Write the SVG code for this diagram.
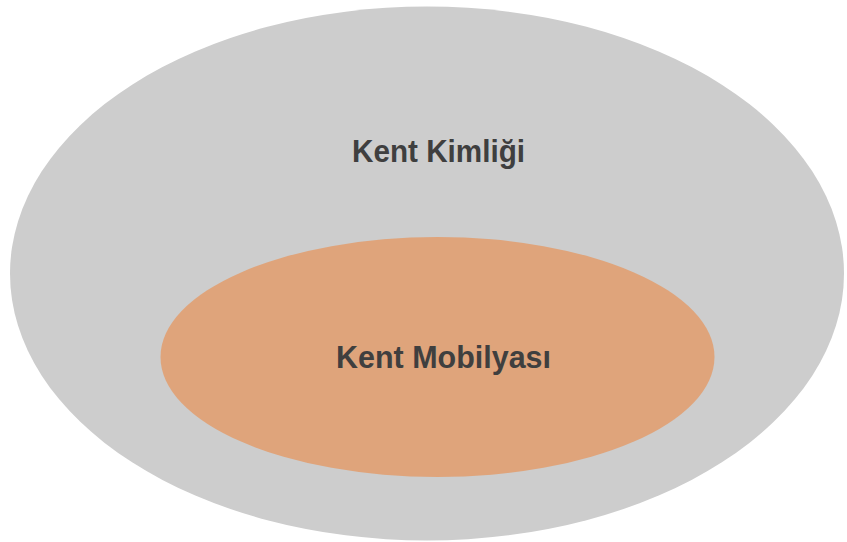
<svg xmlns="http://www.w3.org/2000/svg" width="847" height="542" viewBox="0 0 847 542">
<style>
.lbl{font-family:"Liberation Sans",Arial,sans-serif;font-weight:bold;font-size:31px;fill:#3f3f3f;text-anchor:middle}
</style>
<rect width="847" height="542" fill="#ffffff"/>
<g id="kent-kimligi">
<ellipse cx="427" cy="273.5" rx="417" ry="267" fill="#cdcdcd"/>
<text class="lbl" x="438.5" y="162" textLength="173" lengthAdjust="spacingAndGlyphs">Kent Kimliği</text>
</g>
<g id="kent-mobilyasi">
<ellipse cx="437.5" cy="357" rx="277" ry="120" fill="#dfa47b"/>
<text class="lbl" x="443.5" y="368" textLength="215" lengthAdjust="spacingAndGlyphs">Kent Mobilyası</text>
</g>
<g id="connectors"/>
</svg>
